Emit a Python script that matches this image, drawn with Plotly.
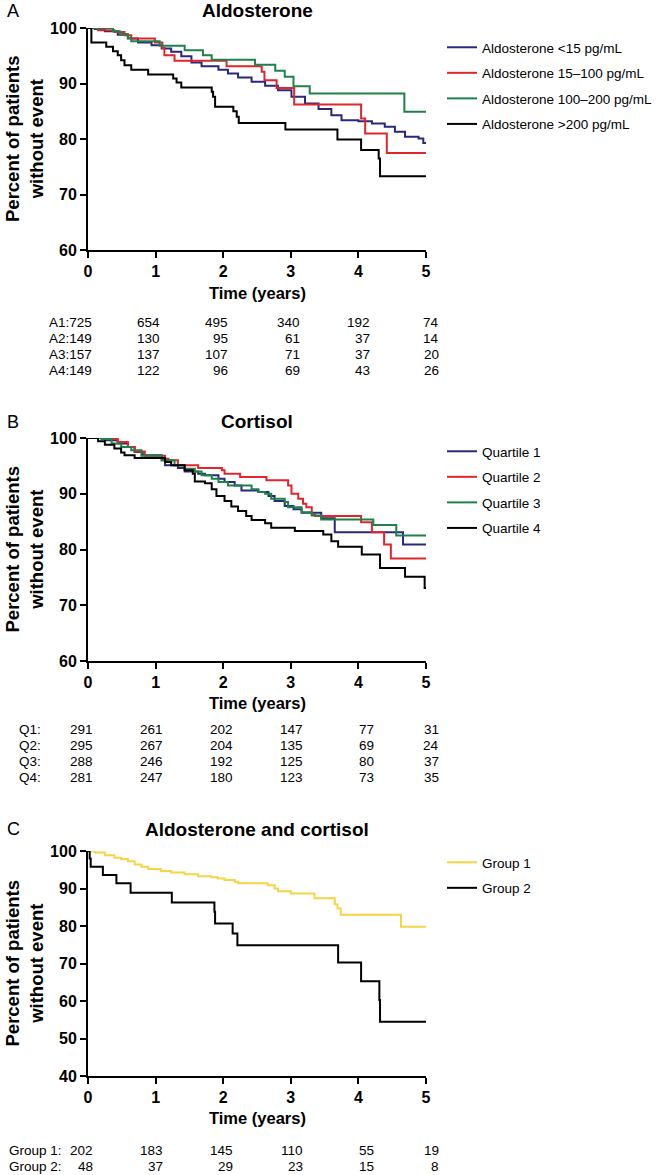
import plotly.graph_objects as go

W, H = 664, 1175
FONT = "Liberation Sans, Arial, sans-serif"

NAVY = "rgb(40,40,125)"
RED = "rgb(224,38,43)"
GREEN = "rgb(30,130,72)"
BLACK = "rgb(0,0,0)"
GOLD = "rgb(245,212,70)"

# ---- Panel A: aldosterone categories (time in years, % without event)
a_names = ["Aldosterone &lt;15 pg/mL", "Aldosterone 15\u2013100 pg/mL",
           "Aldosterone 100\u2013200 pg/mL", "Aldosterone &gt;200 pg/mL"]
a1_t = [0, 0.1, 0.25, 0.44, 0.59, 0.74, 0.94, 1.09, 1.23, 1.38, 1.53, 1.68, 1.93, 2.07, 2.22,
        2.42, 2.62, 2.81, 3.01, 3.21, 3.41, 3.6, 3.75, 4.0, 4.2, 4.39, 4.54, 4.69, 4.89, 4.96, 5]
a1_s = [100, 99.8, 99.4, 98.8, 98.1, 97.4, 96.9, 96.3, 95.7, 94.9, 93.8, 93.1, 92.5, 91.8, 91.1,
        90.3, 89.6, 88.8, 87.6, 86.4, 85.4, 84.3, 83.4, 83.2, 82.8, 82.2, 81.3, 80.4, 80.1, 79.3, 79.3]
a2_t = [0, 0.15, 0.39, 0.54, 0.64, 0.99, 1.1, 1.13, 1.28, 2.05, 2.57, 2.61, 2.79, 3.05, 4.04, 4.1, 4.42, 5]
a2_s = [100, 99.6, 99.3, 98.7, 98.1, 97.4, 96.4, 95.1, 94.1, 93.1, 92.1, 90.6, 89.2, 86.2, 83.7, 81.0, 77.5, 77.5]
a3_t = [0, 0.37, 0.47, 0.59, 0.64, 1.06, 1.43, 1.7, 1.83, 2.47, 2.77, 2.91, 3.04, 3.28, 4.68, 5]
a3_s = [100, 99.4, 98.9, 98.2, 97.6, 96.8, 96.0, 95.1, 94.3, 93.4, 92.3, 91.2, 89.5, 88.2, 84.9, 84.9]
a4_t = [0, 0.05, 0.27, 0.37, 0.44, 0.49, 0.54, 0.64, 0.89, 1.26, 1.31, 1.38, 1.83, 1.85, 1.88,
        2.15, 2.2, 2.23, 2.92, 3.69, 4.04, 4.3, 4.32, 5]
a4_s = [100, 97.4, 96.6, 95.8, 95.1, 94.2, 93.3, 92.5, 91.6, 90.9, 90.2, 89.3, 88.5, 87.6, 85.8,
        85.0, 84.0, 82.9, 81.7, 79.9, 78.0, 76.5, 73.3, 73.3]
a_risk_labels = ["A1:725", "A2:149", "A3:157", "A4:149"]
a_risk = [[654, 495, 340, 192, 74],
          [130, 95, 61, 37, 14],
          [137, 107, 71, 37, 20],
          [122, 96, 69, 43, 26]]

# ---- Panel B: cortisol quartiles
b_names = ["Quartile 1", "Quartile 2", "Quartile 3", "Quartile 4"]
b1_t = [0, 0.25, 0.44, 0.59, 0.69, 0.81, 1.09, 1.14, 1.33, 1.43, 1.63, 1.73, 1.93, 2.02, 2.17,
        2.27, 2.52, 2.67, 2.76, 2.91, 3.04, 3.16, 3.45, 3.65, 4.66, 5]
b1_s = [100, 99.6, 99.0, 98.4, 97.5, 96.9, 96.0, 95.1, 94.6, 94.0, 93.6, 93.3, 92.7, 92.1, 91.5,
        90.6, 90.3, 89.6, 88.7, 87.8, 87.2, 86.6, 85.6, 83.1, 80.9, 80.9]
b2_t = [0, 0.25, 0.44, 0.59, 0.69, 0.84, 1.14, 1.19, 1.33, 1.63, 1.98, 2.02, 2.25, 2.64, 2.96,
        3.01, 3.11, 3.18, 3.23, 3.31, 3.36, 4.04, 4.2, 4.38, 4.48, 5]
b2_s = [100, 99.8, 99.3, 98.4, 97.6, 96.8, 96.3, 96.0, 95.1, 94.6, 94.2, 93.6, 93.0, 92.4, 91.5,
        90.0, 89.1, 88.2, 87.6, 86.3, 86.0, 84.9, 83.1, 80.9, 78.4, 78.4]
b3_t = [0, 0.2, 0.35, 0.49, 0.64, 0.79, 1.09, 1.28, 1.43, 1.58, 1.68, 1.83, 1.93, 2.07, 2.42,
        2.52, 2.62, 2.71, 2.91, 2.96, 3.16, 3.31, 3.45, 4.22, 4.56, 5]
b3_s = [100, 99.8, 99.0, 98.4, 97.8, 96.8, 96.0, 95.1, 94.5, 94.0, 93.3, 92.7, 92.1, 91.5, 90.8,
        90.3, 90.0, 89.1, 88.5, 87.6, 86.7, 86.1, 85.4, 84.4, 82.5, 82.5]
b4_t = [0, 0.15, 0.25, 0.39, 0.49, 0.54, 0.69, 1.14, 1.23, 1.43, 1.55, 1.58, 1.73, 1.83, 1.9,
        2.02, 2.12, 2.22, 2.34, 2.42, 2.62, 2.71, 3.06, 3.48, 3.6, 3.7, 4.05, 4.32, 4.69, 4.98, 5]
b4_s = [100, 99.4, 98.8, 98.1, 97.4, 96.9, 96.4, 95.7, 95.1, 94.2, 93.6, 92.2, 91.9, 90.8, 89.6,
        88.7, 87.7, 86.9, 86.0, 85.3, 84.7, 83.9, 83.3, 82.7, 81.5, 80.5, 79.1, 76.7, 75.1, 73.1, 73.1]
b_risk_labels = ["Q1:", "Q2:", "Q3:", "Q4:"]
b_risk = [[291, 261, 202, 147, 77, 31],
          [295, 267, 204, 135, 69, 24],
          [288, 246, 192, 125, 80, 37],
          [281, 247, 180, 123, 73, 35]]

# ---- Panel C: aldosterone and cortisol groups
c_names = ["Group 1", "Group 2"]
c1_t = [0, 0.1, 0.25, 0.39, 0.49, 0.59, 0.69, 0.79, 0.89, 1.08, 1.23, 1.43, 1.63, 1.82, 1.92,
        2.02, 2.17, 2.22, 2.66, 2.76, 2.81, 3.0, 3.35, 3.65, 3.69, 3.74, 4.63, 5]
c1_s = [100, 99.6, 98.9, 98.2, 97.9, 97.3, 96.4, 95.8, 95.2, 94.7, 94.3, 93.8, 93.3, 93.0, 92.7,
        92.3, 91.8, 91.4, 90.9, 90.0, 89.3, 88.7, 87.4, 85.8, 84.7, 83.0, 79.8, 79.8]
c2_t = [0, 0.025, 0.04, 0.22, 0.42, 0.63, 1.24, 1.87, 1.88, 2.14, 2.21, 3.7, 4.04, 4.31, 4.32, 5]
c2_s = [100, 98.0, 95.8, 93.6, 91.4, 88.9, 86.3, 83.8, 80.7, 78.0, 74.9, 70.3, 65.3, 60.3, 54.5, 54.5]
c_risk_labels = ["Group 1:", "Group 2:"]
c_risk = [[202, 183, 145, 110, 55, 19],
          [48, 37, 29, 23, 15, 8]]


def px_x(p):
    return p / W


def px_y(p):
    return 1 - p / H


fig = go.Figure()

# panel geometry in pixels: (top, bottom) of the plot area
X_LEFT, X_RIGHT = 88, 426
panels = [
    dict(top=28, bottom=250, ymin=60, title="Aldosterone", letter="A",
         title_y=11, xlab_y=293, legend_top=32,
         series=[(a1_t, a1_s, NAVY), (a2_t, a2_s, RED), (a3_t, a3_s, GREEN), (a4_t, a4_s, BLACK)],
         names=a_names),
    dict(top=438, bottom=661, ymin=60, title="Cortisol", letter="B",
         title_y=422, xlab_y=703, legend_top=436,
         series=[(b1_t, b1_s, NAVY), (b2_t, b2_s, RED), (b3_t, b3_s, GREEN), (b4_t, b4_s, BLACK)],
         names=b_names),
    dict(top=851, bottom=1076, ymin=40, title="Aldosterone and cortisol", letter="C",
         title_y=829, xlab_y=1118, legend_top=847,
         series=[(c1_t, c1_s, GOLD), (c2_t, c2_s, BLACK)],
         names=c_names),
]


def note(text, x, y, size, bold=False, xanchor="center", angle=0):
    f = dict(family=FONT, size=size, color="black")
    if bold:
        f["weight"] = "bold"
    return dict(text=text, x=px_x(x), y=px_y(y), xref="paper", yref="paper",
                showarrow=False, xanchor=xanchor, yanchor="middle", textangle=angle, font=f)


annotations = []
for i, p in enumerate(panels):
    n = i + 1
    xa = "x" if n == 1 else "x%d" % n
    ya = "y" if n == 1 else "y%d" % n
    lg = "legend" if n == 1 else "legend%d" % n
    for k, (t, s, col) in enumerate(p["series"]):
        fig.add_trace(go.Scatter(
            x=t, y=s, mode="lines", line=dict(color=col, width=2, shape="hv"),
            name=p["names"][k], legendgroup="%d_%d" % (n, k), legend=lg,
            xaxis=xa, yaxis=ya, hoverinfo="x+y+name"))

    axis_common = dict(showline=True, linecolor="black", linewidth=2, ticks="outside",
                       ticklen=6, tickwidth=2, tickcolor="black", showgrid=False,
                       zeroline=False, automargin=False,
                       tickfont=dict(family=FONT, size=16, color="black", weight="bold"))
    fig.layout["xaxis" if n == 1 else "xaxis%d" % n] = dict(
        domain=[px_x(X_LEFT), px_x(X_RIGHT)], anchor=ya, range=[0, 5], dtick=1,
        tick0=0, fixedrange=True, **axis_common)
    fig.layout["yaxis" if n == 1 else "yaxis%d" % n] = dict(
        domain=[px_y(p["bottom"]), px_y(p["top"])], anchor=xa, range=[p["ymin"], 100],
        dtick=10, tick0=0, fixedrange=True, **axis_common)

    fig.layout[lg] = dict(
        x=px_x(442), y=px_y(p["legend_top"]), xanchor="left", yanchor="top",
        font=dict(family=FONT, size=13.5, color="black"), tracegroupgap=5,
        bgcolor="rgba(0,0,0,0)", traceorder="grouped")

    annotations.append(note(p["title"], 257, p["title_y"], 19, bold=True))
    annotations.append(note(p["letter"], 5, p["title_y"], 18, xanchor="left"))
    annotations.append(note("Time (years)", 257, p["xlab_y"], 16.5, bold=True))
    annotations.append(note("Percent of patients<br>without event", 24,
                            (p["top"] + p["bottom"]) / 2, 18.5, bold=True, angle=-90))


# number-at-risk tables
def add_row(label, label_x, values, cols_right, y):
    annotations.append(note(label, label_x, y, 13.5, xanchor="left"))
    for v, xr in zip(values, cols_right):
        annotations.append(note(str(v), xr, y, 13.5, xanchor="right"))


a_cols = [162, 230, 302, 372, 441]
for r, (lab, vals) in enumerate(zip(a_risk_labels, a_risk)):
    add_row(lab, 47, vals, a_cols, 323 + r * 15.8)

bc_cols = [95, 165, 235, 305, 376, 441]
for r, (lab, vals) in enumerate(zip(b_risk_labels, b_risk)):
    add_row(lab, 17, vals, bc_cols, 729.5 + r * 16)

for r, (lab, vals) in enumerate(zip(c_risk_labels, c_risk)):
    add_row(lab, 7, vals, bc_cols, 1150 + r * 16.7)

fig.update_layout(
    width=W, height=H, margin=dict(l=0, r=0, t=0, b=0, autoexpand=False),
    paper_bgcolor="white", plot_bgcolor="white",
    font=dict(family=FONT, color="black"),
    annotations=annotations, showlegend=True,
)

# the page body has a default 8px margin; drop it so the figure fills the window
fig.write_html("out.html", config={"displayModeBar": False},
               post_script="document.body.style.margin = '0';")
